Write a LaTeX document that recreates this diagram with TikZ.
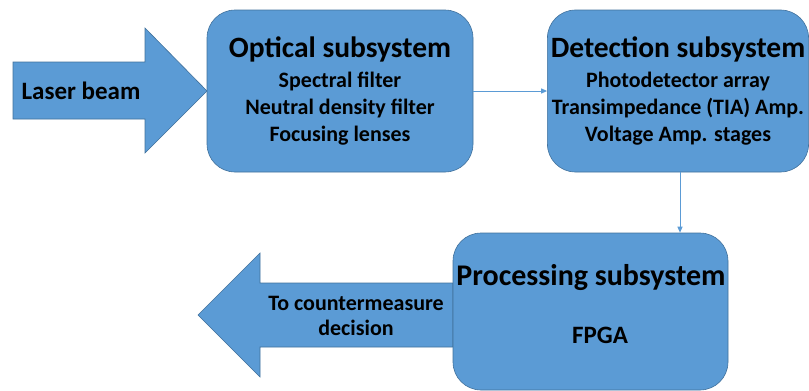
\documentclass[tikz,border=0pt]{standalone}
\usepackage{fontspec}
\setmainfont{Carlito}
\usetikzlibrary{arrows.meta}
\def\laserarrow{(13,62) -- (145,62) -- (145,28) -- (207,91) -- (145,153) -- (145,119) -- (13,119) -- cycle}
\def\decisionarrow{(453,283) -- (260,283) -- (260,253) -- (198,315) -- (260,377) -- (260,347) -- (453,347) -- cycle}
\newcommand{\titlefont}{\fontsize{29.5}{34}\selectfont\bfseries}
\newcommand{\bodyfont}{\fontsize{22}{27}\selectfont\bfseries}
\definecolor{block fill}{HTML}{5B9BD5}
\definecolor{block edge}{HTML}{41719C}
\tikzset{subsys/.style={fill=block fill, draw=block edge, line width=0.6pt, rounded corners=28pt, align=center, font=\bodyfont},
    blockarrow/.style={fill=block fill, draw=block edge, line width=0.6pt},
    link/.style={draw=block fill, line width=1pt, -{Triangle[length=6pt,width=5pt]}}}

\begin{document}
\begin{tikzpicture}[x=1pt, y=-1pt]
 \useasboundingbox (0,0) rectangle (809,391);

 \draw[blockarrow] \laserarrow;
 \draw[blockarrow] \decisionarrow;

\node[subsys, minimum width=266pt, minimum height=162pt] (optical) at (340,91)
  {{\titlefont Optical subsystem}\\[3pt] Spectral filter\\ Neutral density filter\\ Focusing lenses};
\node[subsys, minimum width=260pt, minimum height=162pt] (detection) at (678,91)
  {{\titlefont Detection subsystem}\\[3pt] Photodetector array\\ Transimpedance (TIA) Amp.\\ Voltage Amp. stages};
\node[subsys, minimum width=275pt, minimum height=157pt] (processing) at (590.5,311.5) {};
\node[anchor=base, font=\fontsize{30}{34}\selectfont\bfseries] (proctitle) at (591,285) {Processing subsystem};
\node[anchor=base, font=\fontsize{25}{27}\selectfont\bfseries] (fpga) at (600,343) {FPGA};

\node[font=\fontsize{25}{27}\selectfont\bfseries] (laser) at (81,91) {Laser beam};
\node[font=\bodyfont, align=center] (decision) at (356,316) {To countermeasure\\[-2pt] decision};

 \draw[link] (optical.east) -- (detection.west);
 \draw[link] (detection.south -| 680,0) -- (processing.north -| 680,0);
 % \node[anchor=south] at (current bounding box.north) {};

\end{tikzpicture}
\end{document}
